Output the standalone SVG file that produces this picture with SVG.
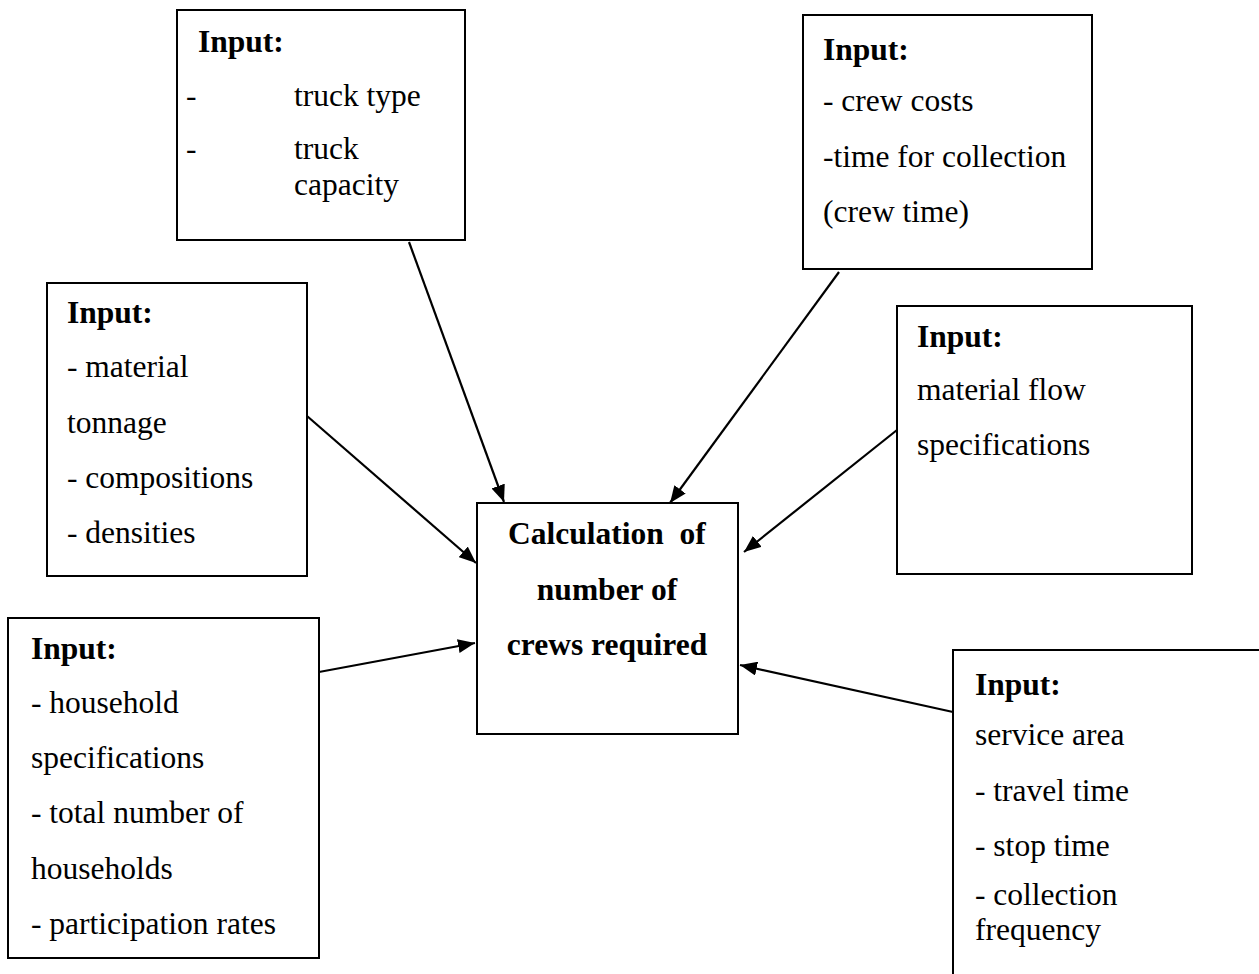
<svg xmlns="http://www.w3.org/2000/svg" width="1259" height="974" viewBox="0 0 1259 974">
  <style>
    .box { fill: #ffffff; stroke: #000000; stroke-width: 2; }
    .t { font-family: "Liberation Serif", "Times New Roman", serif; font-size: 31.5px; fill: #000000; }
    .b { font-weight: bold; }
    .c { text-anchor: middle; white-space: pre; }
    .link { stroke: #000000; stroke-width: 2.2; fill: none; marker-end: url(#head); }
  </style>
  <defs>
    <marker id="head" markerUnits="userSpaceOnUse" markerWidth="18" markerHeight="14" refX="17" refY="7" orient="auto">
      <path d="M0,0 L17,7 L0,14 z" fill="#000000"/>
    </marker>
  </defs>
  <rect width="1259" height="974" fill="#ffffff"/>

  <!-- input: truck data -->
  <g id="truck">
    <rect class="box" x="177" y="10" width="288" height="230"/>
    <text class="t b" x="198" y="52">Input:</text>
    <text class="t" x="186" y="106">-</text>
    <text class="t" x="294" y="106">truck type</text>
    <text class="t" x="186" y="159">-</text>
    <text class="t" x="294" y="159">truck</text>
    <text class="t" x="294" y="195">capacity</text>
  </g>

  <!-- input: crew data -->
  <g id="crew">
    <rect class="box" x="803" y="15" width="289" height="254"/>
    <text class="t b" x="823" y="60">Input:</text>
    <text class="t" x="823" y="111">- crew costs</text>
    <text class="t" x="823" y="167">-time for collection</text>
    <text class="t" x="823" y="222">(crew time)</text>
  </g>

  <!-- input: material data -->
  <g id="material">
    <rect class="box" x="47" y="283" width="260" height="293"/>
    <text class="t b" x="67" y="323">Input:</text>
    <text class="t" x="67" y="377">- material</text>
    <text class="t" x="67" y="433">tonnage</text>
    <text class="t" x="67" y="488">- compositions</text>
    <text class="t" x="67" y="543">- densities</text>
  </g>

  <!-- input: material flow -->
  <g id="flow">
    <rect class="box" x="897" y="306" width="295" height="268"/>
    <text class="t b" x="917" y="347">Input:</text>
    <text class="t" x="917" y="400">material flow</text>
    <text class="t" x="917" y="455">specifications</text>
  </g>

  <!-- input: households -->
  <g id="households">
    <rect class="box" x="8" y="618" width="311" height="340"/>
    <text class="t b" x="31" y="659">Input:</text>
    <text class="t" x="31" y="713">- household</text>
    <text class="t" x="31" y="768">specifications</text>
    <text class="t" x="31" y="823">- total number of</text>
    <text class="t" x="31" y="879">households</text>
    <text class="t" x="31" y="934">- participation rates</text>
  </g>

  <!-- input: service area -->
  <g id="service">
    <rect class="box" x="953" y="650" width="330" height="400"/>
    <text class="t b" x="975" y="695">Input:</text>
    <text class="t" x="975" y="745">service area</text>
    <text class="t" x="975" y="801">- travel time</text>
    <text class="t" x="975" y="856">- stop time</text>
    <text class="t" x="975" y="905">- collection</text>
    <text class="t" x="975" y="940">frequency</text>
  </g>

  <!-- central calculation -->
  <g id="calculation">
    <rect class="box" x="477" y="503" width="261" height="231"/>
    <text class="t b c" x="607" y="544">Calculation  of</text>
    <text class="t b c" x="607" y="600">number of</text>
    <text class="t b c" x="607" y="655">crews required</text>
  </g>

  <g id="connectors">
    <line class="link" x1="409" y1="242" x2="504" y2="502"/>
    <line class="link" x1="839" y1="272" x2="670" y2="503"/>
    <line class="link" x1="307" y1="416" x2="476" y2="563"/>
    <line class="link" x1="897" y1="430" x2="744" y2="552"/>
    <line class="link" x1="319" y1="672" x2="475" y2="643"/>
    <line class="link" x1="953" y1="712" x2="740" y2="665"/>
  </g>
</svg>
